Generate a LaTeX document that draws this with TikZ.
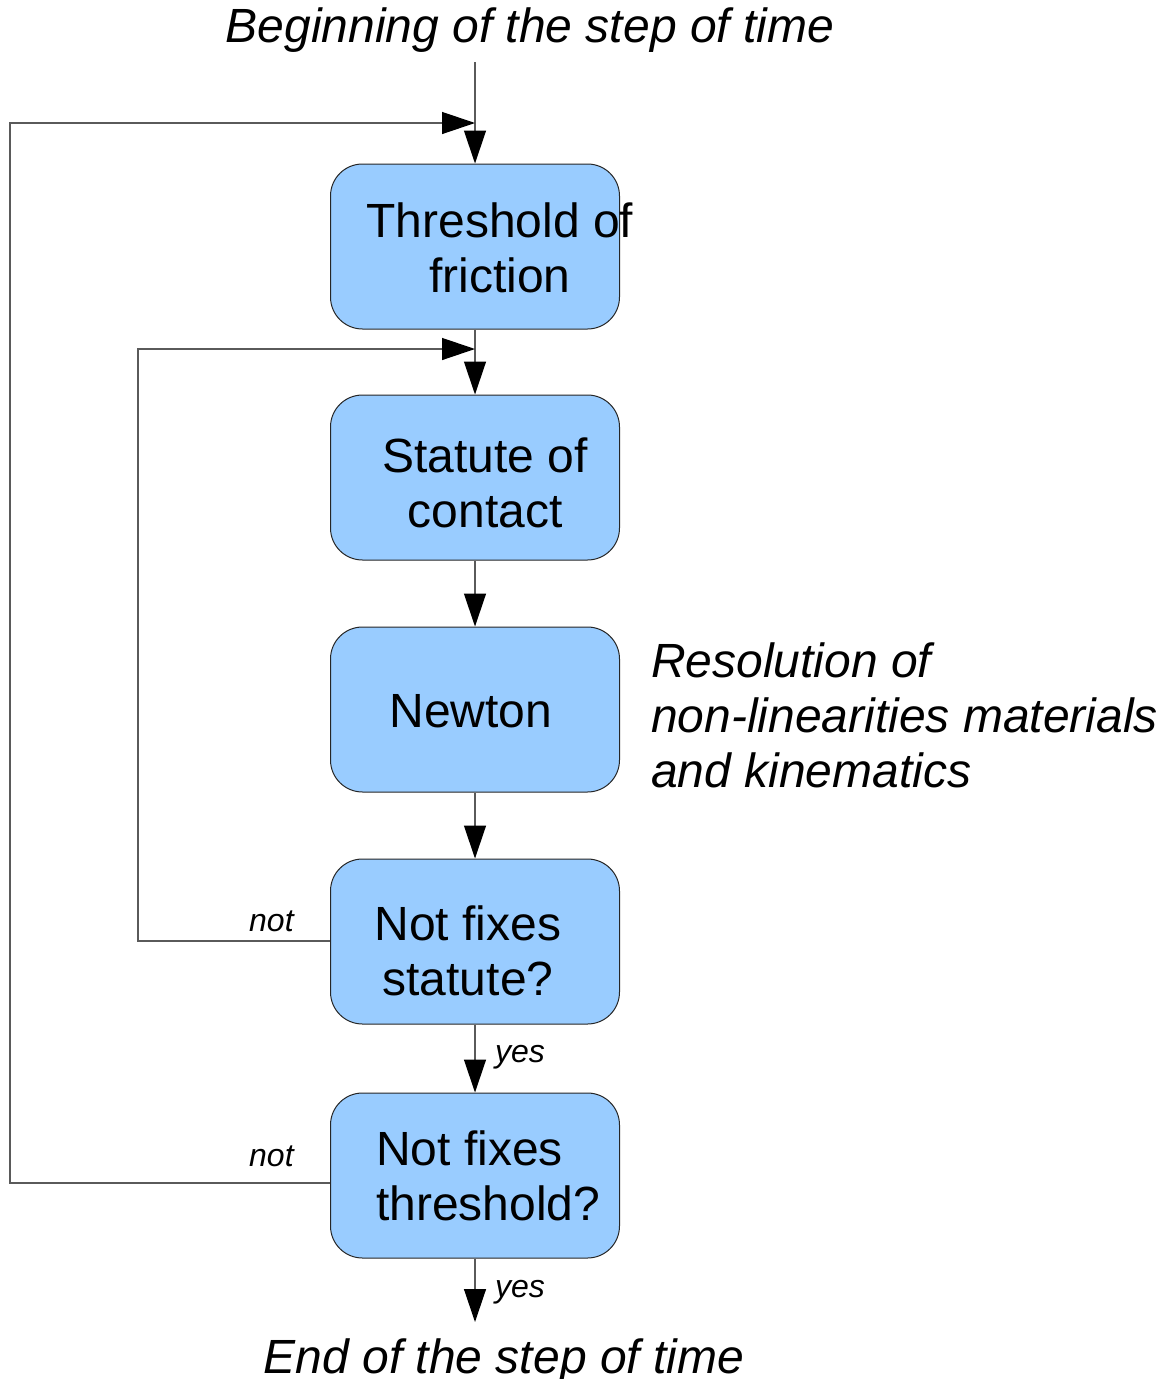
\documentclass[tikz,border=0pt]{standalone}
\usepackage{fontspec}
\setmainfont{Liberation Sans}
\usetikzlibrary{arrows.meta}
\definecolor{boxblue}{HTML}{99CCFF}
\definecolor{linegray}{HTML}{5A5A5A}
\begin{document}
\begin{tikzpicture}[x=1pt,y=-1pt,
  stepbox/.style={draw=black!85, line width=1pt, fill=boxblue, rounded corners=32pt,
    minimum width=289pt, minimum height=165pt, inner sep=0pt},
  big/.style={font=\fontsize{48}{55}\selectfont, inner sep=0pt, anchor=base},
  bigleft/.style={big, anchor=base west},
  bigit/.style={font=\fontsize{48}{55}\selectfont\itshape, inner sep=0pt, anchor=base},
  bigitleft/.style={bigit, anchor=base west},
  small/.style={font=\fontsize{32}{38}\selectfont\itshape, inner sep=0pt, anchor=base west},
  conn/.style={draw=linegray, line width=1.3pt},
  arr/.style={conn, -{Triangle[length=33pt,width=22pt,color=black]}}]
\useasboundingbox (0,0) rectangle (1165,1379);

% boxes
\node[stepbox] (b1) at (475,246.5) {};
\node[stepbox] (b2) at (475,477.5) {};
\node[stepbox] (b3) at (475,709.5) {};
\node[stepbox] (b4) at (475,941.5) {};
\node[stepbox] (b5) at (475,1175.5) {};

% box texts
\node[big] (t1a) at (500,237) {Threshold of};
\node[big] (t1b) at (500,292) {friction};
\node[big] (t2a) at (485,472) {Statute of};
\node[big] (t2b) at (485,527) {contact};
\node[big] (t3) at (471,727) {Newton};
\node[big] (t4a) at (468,940) {Not fixes};
\node[big] (t4b) at (468,995) {statute?};
\node[bigleft] (t5a) at (376,1165) {Not fixes};
\node[bigleft] (t5b) at (376,1220) {threshold?};

% free texts
\node[bigit] (begin) at (530,42) {Beginning of the step of time};
\node[bigit] (end) at (504,1373) {End of the step of time};
\node[bigitleft] (r1) at (651,677) {Resolution of};
\node[bigitleft] (r2) at (651,732) {non-linearities materials};
\node[bigitleft] (r3) at (651,787) {and kinematics};

% coordinates
\coordinate (start) at (475,62);
\coordinate (stop) at (475,1322);
\coordinate (j1) at (475,123);
\coordinate (j2) at (475,349);
\coordinate (o5) at (330,1183);
\coordinate (o4) at (330,941);

% connectors
\draw[arr] (start) -- (b1.north);
\draw[arr] (b1.south) -- (b2.north);
\draw[arr] (b2.south) -- (b3.north);
\draw[arr] (b3.south) -- (b4.north);
\draw[arr] (b4.south) -- (b5.north);
\draw[arr] (b5.south) -- (stop);
\draw[arr] (o5) -- (10,1183) -- (10,123) -- (j1);
\draw[arr] (o4) -- (138,941) -- (138,349) -- (j2);

% labels
\node[small] (n1) at (249,931) {not};
\node[small] (n2) at (249,1166) {not};
\node[small] (y1) at (495,1062) {yes};
\node[small] (y2) at (495,1297) {yes};
\end{tikzpicture}
\end{document}
